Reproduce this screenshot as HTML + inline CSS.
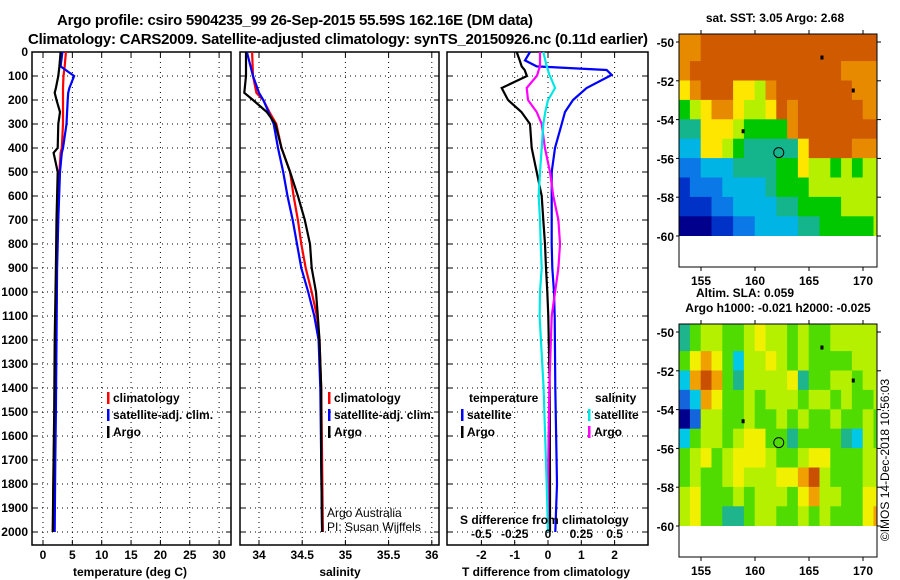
<!DOCTYPE html>
<html><head><meta charset="utf-8"><style>
html,body{margin:0;padding:0;background:#fff}
svg{display:block;font-family:"Liberation Sans",sans-serif}
text{font-weight:bold;font-size:12px;fill:#000}
</style></head><body>
<svg id="fig" width="900" height="580" viewBox="0 0 900 580">
<text x="295" y="25" text-anchor="middle" style="font-size:15px" textLength="476">Argo profile: csiro 5904235_99 26-Sep-2015 55.59S 162.16E (DM data)</text>
<text x="338" y="44" text-anchor="middle" style="font-size:15px" textLength="620">Climatology: CARS2009. Satellite-adjusted climatology: synTS_20150926.nc (0.11d earlier)</text>
<g id="plots"></g>
</svg>
<script>
const NS='http://www.w3.org/2000/svg';
const fig=document.getElementById('plots');
// ---- data ----
const depthTemp=[0,60,100,150,170,200,250,300,400,420,500,700,900,1200,1500,1700,2000];
const tempClim=[3.9,3.7,3.5,3.4,3.4,3.4,3.4,3.4,3.2,3.0,2.8,2.5,2.3,2.1,2.0,1.8,1.7];
const tempSat=[3.3,3.0,5.3,4.5,4.3,4.2,4.1,4.0,3.4,3.2,2.9,2.6,2.4,2.3,2.2,2.1,2.0];
const tempArgo=[3.0,2.8,2.6,2.2,2.0,2.3,2.9,2.6,2.5,1.8,2.5,2.3,2.2,2.0,1.9,1.8,1.65];
const depthSal=[0,100,170,200,250,300,400,500,600,700,800,900,1000,1100,1200,1400,1700,2000];
const salClim=[33.92,33.93,33.97,34.05,34.12,34.20,34.26,34.36,34.40,34.45,34.49,34.54,34.61,34.67,34.70,34.72,34.73,34.74];
const salSat=[33.86,33.93,34.0,34.05,34.11,34.17,34.22,34.28,34.33,34.39,34.44,34.49,34.57,34.64,34.69,34.71,34.72,34.73];
const salArgo=[33.85,33.85,33.83,33.93,34.09,34.19,34.26,34.36,34.45,34.53,34.59,34.61,34.66,34.68,34.70,34.72,34.72,34.73];
const depthDiff=[0,35,60,75,95,100,150,200,250,300,400,500,600,700,800,900,1000,1100,1400,1800,2000];
const tdiffArgo=[-0.94,-0.85,-0.79,-0.7,-0.65,-0.63,-1.39,-1.2,-0.8,-0.54,-0.49,-0.34,-0.19,-0.14,-0.09,-0.06,-0.02,0.01,0.05,0.06,0.06];
const tdiffSat=[-0.54,-0.69,-0.34,1.76,1.91,1.85,1.16,0.75,0.51,0.41,0.21,0.11,0.11,0.11,0.11,0.13,0.18,0.2,0.22,0.27,0.22];
const sdiffArgo=[-0.06,-0.06,-0.06,-0.07,-0.08,-0.085,-0.16,-0.15,-0.085,-0.047,-0.023,0.015,0.04,0.078,0.09,0.078,0.053,0.028,0.01,0.0,0.0];
const sdiffSat=[-0.035,-0.02,-0.01,0.0,0.01,0.015,0.053,0.0,-0.02,-0.035,-0.047,-0.06,-0.07,-0.06,-0.055,-0.047,-0.06,-0.063,-0.033,-0.01,0.0];
const depthTicks=[0,100,200,300,400,500,600,700,800,900,1000,1100,1200,1300,1400,1500,1600,1700,1800,1900,2000];
const tempTicks=[0,5,10,15,20,25,30];
const salTicks=[34,34.5,35,35.5,36];
const tdiffTicks=[-2,-1,0,1,2];
const sdiffTicks=[-0.5,-0.25,0,0.25,0.5];
// map data (levels per 1deg cell, lon 153..171, rows lat -50..-60)
const sstRows=["8899999999999999999","8999999999999998888","7899977689999999888","5678876679899999988","4477765555899999999","3377654444479999888","2233344445576656566","1222333345556666666","1112233334455556666","0001122333344555556"];
const slaRows=["3455445655454455555","4676425565454444555","2787435555634455455","1276445455545545445","0155445445454454454","2455456644344443254","4564566654456644455","4544565556678544455","5644454555467554466","5644334554454544467"];
const sstColors=["#00008c","#0032c8","#0a78e6","#00b4e6","#14b48c","#00c800","#b4f000","#ffe600","#e88a00","#d05a00"];
const slaColors=["#00008c","#1464dc","#00c8e6","#1eb48c","#50dc00","#b4f000","#f0f000","#f0a000","#c85000"];
// ---- helpers ----
function el(tag,attrs,parent){const e=document.createElementNS(NS,tag);for(const k in attrs)e.setAttribute(k,attrs[k]);(parent||fig).appendChild(e);return e;}
function txt(x,y,s,anchor,parent,extra){const t=el('text',Object.assign({x:x,y:y,'text-anchor':anchor||'start'},extra||{}),parent);t.textContent=s;return t;}
const Y0=52,PX100=24,PB=545;
const yD=d=>Y0+d*PX100/100;
function panel(name,x0,x1,xs,ticks,fmt,grid){
 const g=el('g',{});
 
 
 depthTicks.forEach(d=>{const y=yD(d);el('line',{x1:x0,x2:x1,y1:y,y2:y,stroke:'#000','stroke-dasharray':'1,4','stroke-width':1},g);el('line',{x1:x0,x2:x0+5,y1:y,y2:y,stroke:'#000'},g);el('line',{x1:x1-5,x2:x1,y1:y,y2:y,stroke:'#000'},g);});
 ticks.forEach(v=>{const x=xs(v);if(grid)el('line',{x1:x,x2:x,y1:Y0,y2:PB,stroke:'#000','stroke-dasharray':'1,4'},g);el('line',{x1:x,x2:x,y1:PB-5,y2:PB,stroke:'#000'},g);el('line',{x1:x,x2:x,y1:Y0,y2:Y0+5,stroke:'#000'},g);
  if(fmt){const t=txt(x,559,fmt(v),'middle',g);}});
 el('rect',{x:x0,y:Y0,width:x1-x0,height:PB-Y0,fill:'none',stroke:'#000','stroke-width':1.5},g);
 return g;
}
function line(g,xs,vals,depths,color,name){
 const p=el('polyline',{points:vals.map((v,i)=>xs(v).toFixed(1)+','+yD(depths[i]).toFixed(1)).join(' '),fill:'none',stroke:color,'stroke-width':2.2},g);
 
 
}
function legend(g,x,y,color,label){
 el('rect',{x:x,y:y-10,width:2.5,height:12,fill:color},g);
 const t=txt(x+6,y,label,'start',g);
 
 
}
// panel 1
const xT=v=>43+v*5.87;
const g1=panel('temperature-panel',32,231,xT,tempTicks,v=>String(v),true);
depthTicks.forEach(d=>{const t=txt(28,yD(d)+4,String(d),'end',g1);});
line(g1,xT,tempClim,depthTemp,'#ff0000','temp-climatology-line');
line(g1,xT,tempSat,depthTemp,'#0000ff','temp-satellite-line');
line(g1,xT,tempArgo,depthTemp,'#000000','temp-argo-line');
legend(g1,107,402,'#ff0000','climatology');legend(g1,107,419,'#0000ff','satellite-adj. clim.');legend(g1,107,436,'#000','Argo');
let t=txt(130,576,'temperature (deg C)','middle',g1);
// panel 2
const xS=v=>259+(v-34)*86.4;
const g2=panel('salinity-panel',240,439,xS,salTicks,v=>String(v),true);
line(g2,xS,salClim,depthSal,'#ff0000','sal-climatology-line');
line(g2,xS,salSat,depthSal,'#0000ff','sal-satellite-line');
line(g2,xS,salArgo,depthSal,'#000000','sal-argo-line');
legend(g2,328,402,'#ff0000','climatology');legend(g2,328,419,'#0000ff','satellite-adj. clim.');legend(g2,328,436,'#000','Argo');
t=txt(327,517,'Argo Australia','start',g2,{style:'font-weight:normal'});
t=txt(327,531,'PI: Susan Wijffels','start',g2,{style:'font-weight:normal'});
t=txt(340,576,'salinity','middle',g2);
// panel 3
const xTd=v=>548+v*33.3, xSd=v=>548+v*133.2;
const g3=panel('difference-panel',447,648,xTd,tdiffTicks,v=>String(v),true);
line(g3,xTd,tdiffArgo,depthDiff,'#000000','tdiff-argo-line');
line(g3,xTd,tdiffSat,depthDiff,'#0000ff','tdiff-satellite-line');
line(g3,xSd,sdiffArgo,depthDiff,'#ff00ff','sdiff-argo-line');
line(g3,xSd,sdiffSat,depthDiff,'#00e6e6','sdiff-satellite-line');
t=txt(469,402,'temperature','start',g3);
t=txt(595,402,'salinity','start',g3);
legend(g3,461,419,'#0000ff','satellite');legend(g3,461,436,'#000','Argo');
legend(g3,588,419,'#00e6e6','satellite');legend(g3,588,436,'#ff00ff','Argo');
t=txt(460,524,'S difference from climatology','start',g3);
sdiffTicks.forEach(v=>{const tt=txt(xSd(v),538,String(v),'middle',g3);});
t=txt(546,576,'T difference from climatology','middle',g3);
// maps
function map(name,top,rows,colors,title1,title2){
 const g=el('g',{});
 
 
 const L=679,R=877,lon=v=>701+(v-155)*10.8,lat=v=>top+8+(-50-v)*19.4;
 const cp=el('clipPath',{id:'cp'+top},g);el('rect',{x:L,y:top,width:R-L,height:lat(-60)-top},cp);
 const cg=el('g',{'clip-path':'url(#cp'+top+')'},g);
 el('rect',{x:L,y:top,width:R-L,height:lat(-60)-top,fill:colors[rows[0][0]]},cg);
 rows.forEach((r,i)=>{for(let j=0;j<r.length;j++){const c=el('rect',{x:lon(153+j)-0.3,y:(i==0?top:lat(-50-i))-0.3,width:10.8+0.6,height:(i==0?lat(-51)-top:19.4)+0.6,fill:colors[+r[j]]},cg);
  
  }});
 el('rect',{x:L,y:top,width:R-L,height:233,fill:'none',stroke:'#000','stroke-width':1},g);
 [-50,-52,-54,-56,-58,-60].forEach(v=>{const y=lat(v);el('line',{x1:R,x2:R+4,y1:y,y2:y,stroke:'#000'},g);el('line',{x1:L,x2:L-3,y1:y,y2:y,stroke:'#000'},g);const tt=txt(L-5,y+5,String(v),'end',g);});
 [155,160,165,170].forEach(v=>{const x=lon(v);el('line',{x1:x,x2:x,y1:top+233,y2:top+237,stroke:'#000'},g);el('line',{x1:x,x2:x,y1:top,y2:top-4,stroke:'#000'},g);const tt=txt(x,top+251,String(v),'middle',g);});
 const c=el('circle',{cx:lon(162.2),cy:lat(-55.7),r:5,fill:'none',stroke:'#000'},g);
 [[166.2,-50.8],[169.1,-52.5],[158.9,-54.6]].forEach(p=>el('rect',{x:lon(p[0])-1.5,y:lat(p[1])-2,width:3,height:4,fill:'#000'},g));
 if(title2){let a=txt(745,top-27,title1,'middle',g);a=txt(778,top-12,title2,'middle',g);}
 else{const a=txt(775,top-12,title1,'middle',g);}
}
map('sst-map',34,sstRows,sstColors,'sat. SST: 3.05 Argo: 2.68');
map('sla-map',324,slaRows,slaColors,'Altim. SLA: 0.059','Argo h1000: -0.021 h2000: -0.025');
t=txt(0,0,'©IMOS 14-Dec-2018 10:56:03','middle',fig,{transform:'translate(889,460) rotate(-90)',style:'font-weight:normal'});


</script>
</body></html>
